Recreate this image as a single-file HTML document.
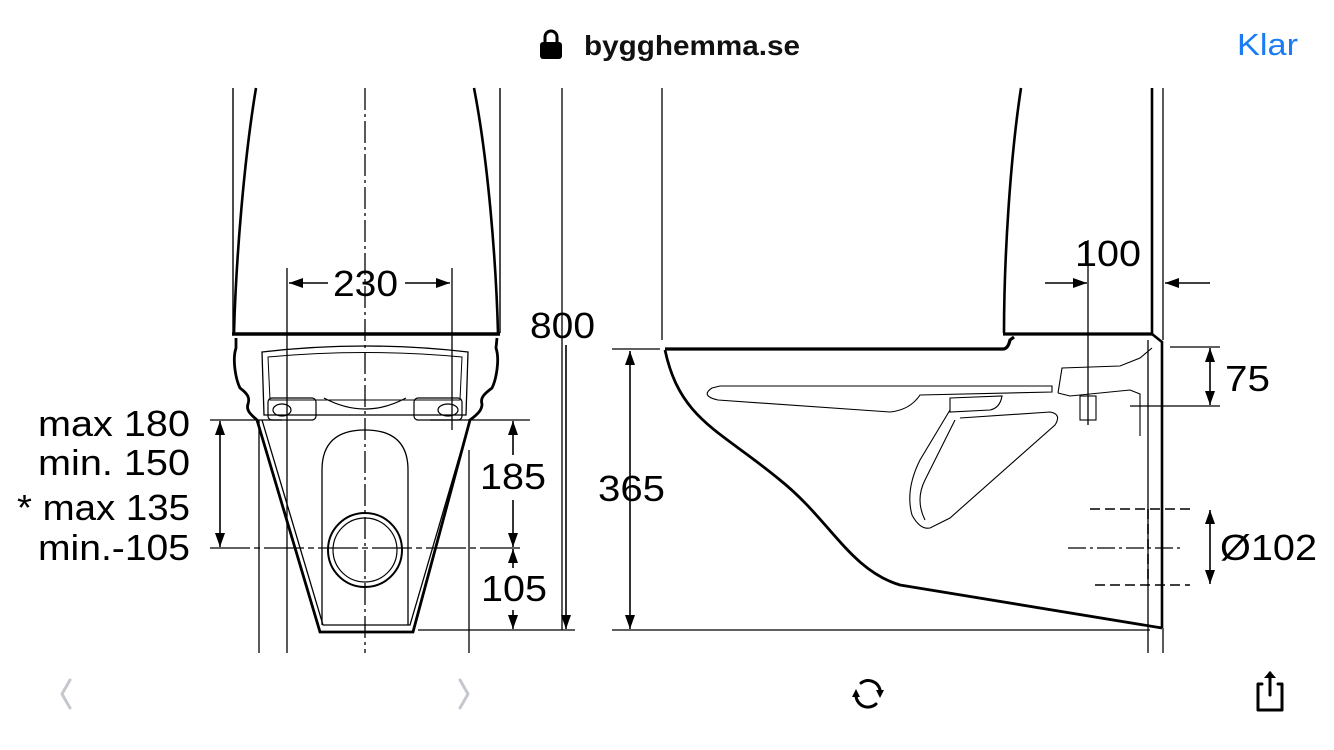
<!DOCTYPE html>
<html><head><meta charset="utf-8"><style>
html,body{margin:0;padding:0;background:#fff;width:1334px;height:750px;overflow:hidden}
svg{display:block}
text{font-family:"Liberation Sans",sans-serif}
</style></head><body>
<svg width="1334" height="750" viewBox="0 0 1334 750" xmlns="http://www.w3.org/2000/svg">
<defs>
<marker id="a" viewBox="0 0 14 10" refX="14" refY="5" markerWidth="14" markerHeight="10" orient="auto-start-reverse" markerUnits="userSpaceOnUse">
<path d="M0,0 L14,5 L0,10 z" fill="#000"/>
</marker>
</defs>
<!-- top bar -->
<g fill="#000">
<rect x="540" y="42" width="22" height="17" rx="3"/>
<path d="M545,43 v-6 a6,6 0 0 1 12,0 v6" fill="none" stroke="#000" stroke-width="3"/>
</g>
<text x="584" y="55" font-size="28" font-weight="bold" fill="#111" textLength="216" lengthAdjust="spacingAndGlyphs">bygghemma.se</text>
<text x="1237" y="55" font-size="31" fill="#1a7cf5" textLength="61" lengthAdjust="spacingAndGlyphs">Klar</text>

<g fill="none" stroke="#000" stroke-width="1.6">
<!-- LEFT VIEW -->
<line x1="233" y1="88" x2="233" y2="333" stroke-width="1.4"/>
<line x1="500" y1="88" x2="500" y2="333" stroke-width="1.4"/>
<path d="M256,88 C244,160 236,260 234,333" stroke-width="2.6"/>
<path d="M474,88 C488,160 496,260 498,333" stroke-width="2.6"/>
<line x1="232" y1="334" x2="500" y2="334" stroke-width="3.5"/>
<line x1="365" y1="88" x2="365" y2="653" stroke-dasharray="22,4,3,4" stroke-width="1.3"/>
<path d="M236,338 L236,348 C232,360 236,380 240,388 C248,394 250,398 248,404 C246,410 250,414 257,420 L320,632 L413,632 L470,420 C478,414 482,410 482,404 C480,398 484,394 492,388 C496,380 500,360 496,348 L497,338" stroke-width="2.8"/>
<path d="M262,420 L323,625 L410,625 L470,420" stroke-width="1.3"/>
<path d="M262,352 Q365,340 468,352 L466,415 L264,415 z" stroke-width="1.3"/>
<path d="M268,357 Q365,348 462,357 L460,400 L270,400 z" stroke-width="1"/>
<path d="M322,625 L322,470 C322,440 340,430 365,430 C390,430 408,440 408,470 L408,625" stroke-width="1.3"/>
<path d="M324,398 Q365,420 406,398" stroke-width="1.2"/>
<rect x="268" y="398" width="48" height="22" rx="4" stroke-width="1.2"/>
<rect x="414" y="398" width="48" height="22" rx="4" stroke-width="1.2"/>
<ellipse cx="282" cy="410" rx="9" ry="6" stroke-width="1.2"/>
<ellipse cx="448" cy="410" rx="10" ry="6" stroke-width="1.2"/>
<circle cx="365" cy="550" r="37" stroke-width="2"/>
<circle cx="365" cy="550" r="32" stroke-width="1.2"/>
<line x1="259" y1="420" x2="259" y2="653" stroke-width="1.3"/>
<line x1="287" y1="268" x2="287" y2="653" stroke-width="1.3"/>
<line x1="452" y1="268" x2="452" y2="430" stroke-width="1.3"/>
<line x1="469" y1="450" x2="469" y2="653" stroke-width="1.3"/>
<line x1="562" y1="88" x2="562" y2="630" stroke-width="1.3"/>
<line x1="289" y1="283" x2="328" y2="283" marker-start="url(#a)"/>
<line x1="405" y1="283" x2="450" y2="283" marker-end="url(#a)"/>
<line x1="210" y1="420" x2="282" y2="420" stroke-width="1.3"/>
<line x1="430" y1="420" x2="530" y2="420" stroke-width="1.3"/>
<line x1="210" y1="548" x2="520" y2="548" stroke-width="1.3" stroke-dasharray="40,4,6,4"/>
<line x1="220" y1="421" x2="220" y2="547" marker-start="url(#a)" marker-end="url(#a)"/>
<line x1="513" y1="421" x2="513" y2="455" marker-start="url(#a)"/>
<line x1="513" y1="500" x2="513" y2="547" marker-end="url(#a)"/>
<line x1="513" y1="549" x2="513" y2="568" marker-start="url(#a)"/>
<line x1="513" y1="610" x2="513" y2="629" marker-end="url(#a)"/>
<line x1="418" y1="630" x2="575" y2="630" stroke-width="1.3"/>
<line x1="566" y1="345" x2="566" y2="629" marker-end="url(#a)"/>

<!-- RIGHT VIEW -->
<line x1="662" y1="88" x2="662" y2="340" stroke-width="1.3"/>
<path d="M1021,88 C1010,160 1004,260 1004,333" stroke-width="2.6"/>
<line x1="1152" y1="88" x2="1152" y2="334" stroke-width="2.6"/>
<line x1="1163" y1="88" x2="1163" y2="340" stroke-width="1.3"/>
<line x1="1003" y1="334" x2="1153" y2="334" stroke-width="3.2"/>
<path d="M665,349 L1003,349 Q1008,349 1010,340 L1014,337" stroke-width="3.2"/>
<path d="M1152,334 L1162,342 L1162,628" stroke-width="2.6"/>
<path d="M665,350 C680,420 720,430 780,480 C830,520 850,570 900,585 L1162,628" stroke-width="2.8"/>
<path d="M712,388 Q700,396 718,400 L890,412 Q910,410 920,395 L1052,392 L1052,386 L720,386 z" stroke-width="1.1"/>
<path d="M950,398 L1002,396 Q1000,408 990,410 L950,412 z" stroke-width="1.1"/>
<path d="M950,410 L920,460 Q905,490 912,515 Q920,530 930,528 L950,518 L1055,425 Q1062,414 1050,412 L960,418" stroke-width="1.1"/>
<path d="M925,520 Q915,500 925,480 L955,420" stroke-width="1.1"/>
<path d="M1058,393 L1062,368 L1120,366 L1140,358 L1152,348 M1058,393 L1070,396 L1130,390 L1140,394 L1140,436" stroke-width="1.1"/>
<rect x="1080" y="396" width="16" height="24" stroke-width="1.1"/>
<line x1="1088" y1="240" x2="1088" y2="425" stroke-width="1.3"/>
<line x1="1130" y1="406" x2="1220" y2="406" stroke-width="1.3"/>
<line x1="1170" y1="347" x2="1220" y2="347" stroke-width="1.3"/>
<line x1="1210" y1="348" x2="1210" y2="405" marker-start="url(#a)" marker-end="url(#a)"/>
<line x1="1045" y1="283" x2="1087" y2="283" marker-end="url(#a)"/>
<line x1="1210" y1="283" x2="1165" y2="283" marker-end="url(#a)"/>
<line x1="612" y1="349" x2="660" y2="349" stroke-width="1.3"/>
<line x1="612" y1="630" x2="1150" y2="630" stroke-width="1.3"/>
<line x1="630" y1="351" x2="630" y2="629" marker-start="url(#a)" marker-end="url(#a)"/>
<line x1="1148" y1="340" x2="1148" y2="653" stroke-width="1.3"/>
<line x1="1163" y1="628" x2="1163" y2="653" stroke-width="1.3"/>
<line x1="1090" y1="509" x2="1190" y2="509" stroke-dasharray="10,5" stroke-width="1.6"/>
<line x1="1095" y1="585" x2="1190" y2="585" stroke-dasharray="10,5" stroke-width="1.6"/>
<line x1="1148" y1="509" x2="1148" y2="585" stroke-dasharray="10,5" stroke-width="1.6"/>
<line x1="1068" y1="548" x2="1180" y2="548" stroke-dasharray="18,4,3,4" stroke-width="1.3"/>
<line x1="1210" y1="510" x2="1210" y2="584" marker-start="url(#a)" marker-end="url(#a)"/>
</g>

<g font-size="36" fill="#000">
<text x="333" y="296" textLength="65" lengthAdjust="spacingAndGlyphs">230</text>
<text x="530" y="338" textLength="65" lengthAdjust="spacingAndGlyphs">800</text>
<text x="480" y="489" textLength="66" lengthAdjust="spacingAndGlyphs">185</text>
<text x="481" y="601" textLength="66" lengthAdjust="spacingAndGlyphs">105</text>
<text x="38" y="436" textLength="152" lengthAdjust="spacingAndGlyphs">max 180</text>
<text x="38" y="475" textLength="152" lengthAdjust="spacingAndGlyphs">min. 150</text>
<text x="17" y="520" textLength="173" lengthAdjust="spacingAndGlyphs">* max 135</text>
<text x="38" y="560" textLength="152" lengthAdjust="spacingAndGlyphs">min.-105</text>
<text x="598" y="501" textLength="67" lengthAdjust="spacingAndGlyphs">365</text>
<text x="1075" y="266" textLength="66" lengthAdjust="spacingAndGlyphs">100</text>
<text x="1225" y="391" textLength="45" lengthAdjust="spacingAndGlyphs">75</text>
<text x="1220" y="560" textLength="97" lengthAdjust="spacingAndGlyphs">Ø102</text>
</g>

<g fill="none" stroke-linecap="round" stroke-linejoin="round">
<path d="M70,680 L62,694 L70,708" stroke="#c4c8ce" stroke-width="3"/>
<path d="M460,680 L468,694 L460,708" stroke="#c4c8ce" stroke-width="3"/>
<path d="M861,683 A12,12 0 0 1 880,690" stroke="#000" stroke-width="3"/>
<path d="M876,704 A12,12 0 0 1 856,696" stroke="#000" stroke-width="3"/>
<path d="M1262,684 L1258,684 L1258,710 L1282,710 L1282,684 L1278,684" stroke="#000" stroke-width="3"/>
<path d="M1270,695 L1270,673" stroke="#000" stroke-width="3"/>
</g>
<path d="M876,690 L884,690 L880,698 z M852,697 L860,697 L856,689 z M1264,678 L1276,678 L1270,671 z" fill="#000"/>
</svg>
</body></html>
